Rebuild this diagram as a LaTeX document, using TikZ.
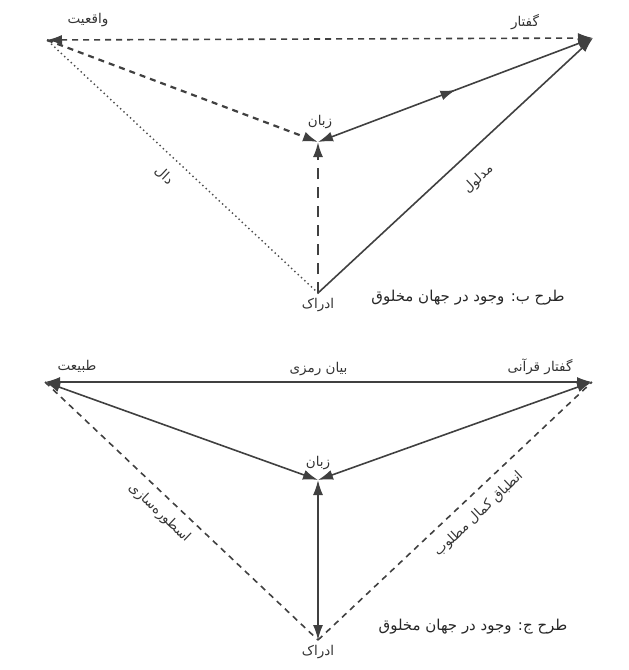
\documentclass[tikz,border=0pt]{standalone}
\usepackage{fontspec}
\newfontfamily\persian[Script=Arabic]{DejaVu Sans}
\TeXXeTstate=1
\usetikzlibrary{arrows.meta,decorations.markings}

\tikzset{
  >={Latex[length=15pt,width=10pt]},
  word/.style={font=\persian\fontsize{13.5}{15}\selectfont, text=black!80, inner sep=2pt},
  caption/.style={font=\persian\fontsize{15}{17}\selectfont, text=black!85, inner sep=2pt},
  plainln/.style={draw=black!75, line width=1.6pt},
  dashln/.style={draw=black!75, line width=1.6pt, dash pattern=on 6pt off 5pt},
  longdash/.style={draw=black!75, line width=2pt, dash pattern=on 11pt off 8pt},
  dotln/.style={draw=black!70, line width=2pt, line cap=round, dash pattern=on 0pt off 4.5pt},
  midarrow/.style={postaction={decorate},
    decoration={markings, mark=at position 0.5 with {\arrow{>}}}}
}

\begin{document}
\begin{tikzpicture}[x=1pt,y=-1pt]
  \useasboundingbox (0,0) rectangle (629,670);

  % upper scheme
  \coordinate (real) at (47,40);
  \coordinate (speech) at (593,38);
  \coordinate (lang) at (318,142);
  \coordinate (perc) at (318,293);

  \node[word] (reallbl) at (88,20) {\beginR واقعیت\endR};
  \node[word] (speechlbl) at (525,22) {\beginR گفتار\endR};
  \node[word] (langlbl) at (320,122) {\beginR زبان\endR};
  \node[word,below=3pt] (perclbl) at (perc) {\beginR ادراک\endR};
  \node[caption] (capb) at (468,298) {\beginR طرح ب: وجود در جهان مخلوق\endR};

  \draw[dashln,<->] (real) -- (speech);
  \draw[dashln,line width=2.2pt,->] (real) -- (lang);
  \draw[dotln] (perc) -- (real)
    node[word,sloped,pos=0.52,below=10pt] (signlbl) {\beginR دال\endR};
  \draw[plainln,<->,midarrow] (lang) -- (speech);
  \draw[plainln,->] (perc) -- (speech)
    node[word,sloped,pos=0.52,below=16pt] (meantlbl) {\beginR مدلول\endR};
  \draw[longdash,->] (perc) -- (lang);

  % lower scheme
  \coordinate (nat) at (45,382);
  \coordinate (quran) at (592,382);
  \coordinate (lang2) at (318,480);
  \coordinate (perc2) at (318,640);

  \node[word] (natlbl) at (77,366) {\beginR طبیعت\endR};
  \node[word] (quranlbl) at (540,367) {\beginR گفتار قرآنی\endR};
  \node[word] (lang2lbl) at (318,463) {\beginR زبان\endR};
  \node[word,below=3pt] (perc2lbl) at (perc2) {\beginR ادراک\endR};
  \node[caption] (capc) at (473,627) {\beginR طرح ج: وجود در جهان مخلوق\endR};

  \draw[plainln,<->] (nat) -- (quran)
    node[word,midway,above=3pt] (symlbl) {\beginR بیان رمزی\endR};
  \draw[plainln,<->] (nat) -- (lang2);
  \draw[plainln,<->] (quran) -- (lang2);
  \draw[plainln,<->] (perc2) -- (lang2);
  \draw[dashln] (nat) -- (perc2)
    node[word,sloped,pos=0.46,below=7pt] (mythlbl) {\beginR اسطوره‌سازی\endR};
  \draw[dashln] (perc2) -- (quran)
    node[word,sloped,pos=0.54,below=9pt] (matchlbl) {\beginR انطباق کمال مطلوب\endR};
\end{tikzpicture}
\end{document}
